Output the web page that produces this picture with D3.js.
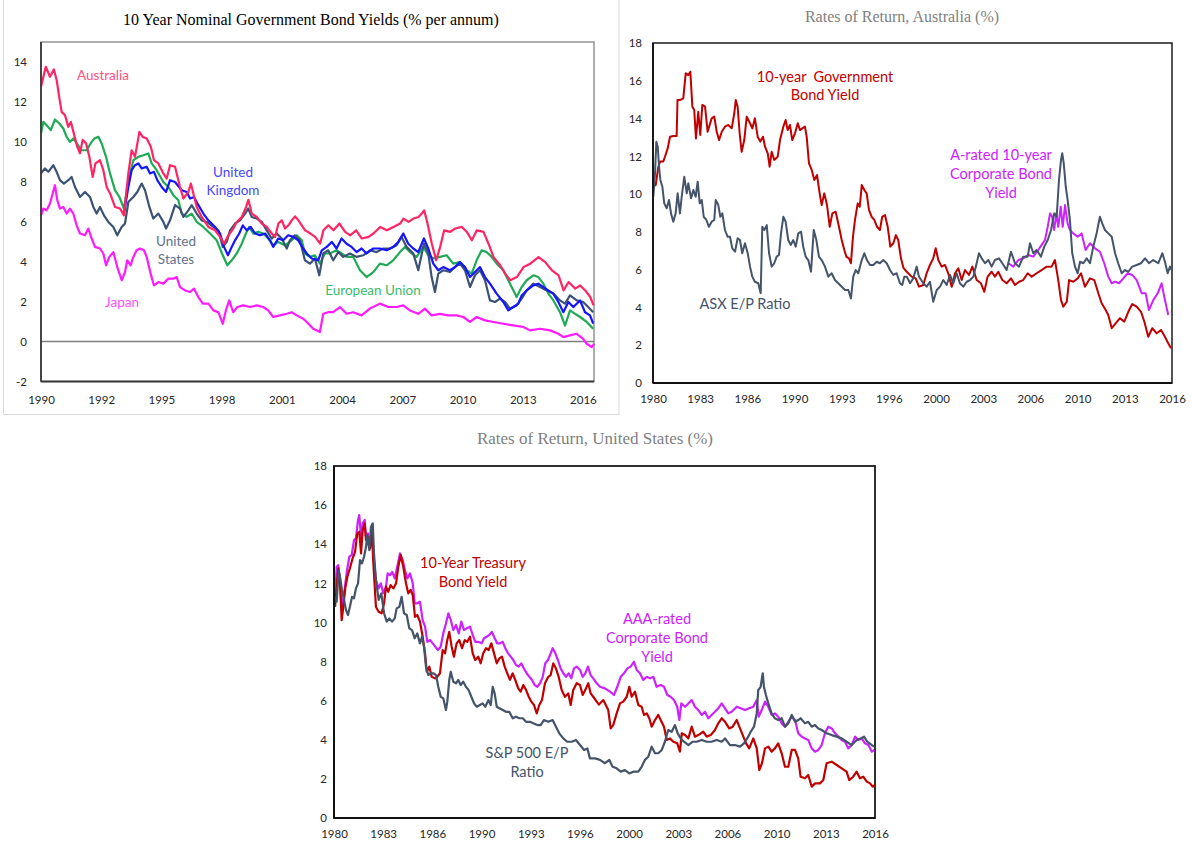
<!DOCTYPE html>
<html>
<head>
<meta charset="utf-8">
<script src="https://cdn.jsdelivr.net/npm/d3@7"></script>
<style>
  body { margin: 0; background: #fff; }
  svg { display: block; }
</style>
</head>
<body>
<script>
// ---- panel 1: 10 year nominal government bond yields, [year, %] ----
const govYears = ["1990","1992","1995","1998","2001","2004","2007","2010","2013","2016"];
const auYield = [[1990.00,12.76],[1990.23,13.76],[1990.43,13.26],[1990.62,13.63],[1990.75,13.1],[1990.88,12.2],[1990.99,11.5],[1991.15,11.34],[1991.31,10.75],[1991.43,11.0],[1991.58,10.4],[1991.74,9.75],[1991.87,9.43],[1992.0,10.1],[1992.16,9.93],[1992.32,9.25],[1992.48,8.24],[1992.61,8.92],[1992.83,9.08],[1992.99,8.58],[1993.15,7.74],[1993.31,7.43],[1993.55,6.74],[1993.79,6.66],[1993.98,6.32],[1994.19,8.42],[1994.35,9.58],[1994.51,9.25],[1994.72,10.5],[1994.88,10.25],[1995.07,10.17],[1995.27,9.75],[1995.42,9.08],[1995.63,8.92],[1995.87,8.42],[1996.03,8.16],[1996.19,8.83],[1996.43,8.75],[1996.67,7.74],[1996.83,7.16],[1997.07,7.49],[1997.19,7.91],[1997.31,7.41],[1997.47,6.74],[1997.71,6.24],[1998.03,5.74],[1998.35,5.57],[1998.59,5.24],[1998.78,4.9],[1998.99,5.32],[1999.23,5.66],[1999.39,5.99],[1999.63,6.24],[1999.84,6.74],[1999.95,7.1],[2000.11,6.41],[2000.35,6.24],[2000.59,5.91],[2000.83,5.74],[2001.07,5.41],[2001.23,5.24],[2001.39,5.91],[2001.55,6.07],[2001.71,5.66],[2001.87,5.82],[2002.03,6.07],[2002.19,6.27],[2002.35,6.07],[2002.67,5.57],[2002.91,5.42],[2003.15,5.24],[2003.39,4.9],[2003.55,5.57],[2003.79,5.82],[2004.03,5.57],[2004.32,5.91],[2004.59,5.49],[2004.83,5.32],[2005.12,5.57],[2005.39,5.16],[2005.71,5.24],[2005.95,5.41],[2006.27,5.74],[2006.59,5.57],[2006.91,5.74],[2007.23,5.91],[2007.39,6.16],[2007.63,5.99],[2007.87,6.16],[2008.11,6.24],[2008.27,6.41],[2008.38,6.57],[2008.51,6.07],[2008.75,4.9],[2008.96,4.07],[2009.15,4.74],[2009.34,5.57],[2009.63,5.49],[2009.87,5.66],[2010.19,5.74],[2010.43,5.49],[2010.67,5.07],[2010.91,5.57],[2011.23,5.49],[2011.47,4.9],[2011.71,4.23],[2012.03,3.82],[2012.27,3.4],[2012.51,3.07],[2012.83,3.23],[2013.15,3.73],[2013.47,3.9],[2013.87,4.23],[2014.19,3.98],[2014.51,3.57],[2014.83,3.32],[2015.07,2.56],[2015.31,2.98],[2015.63,2.65],[2015.87,2.81],[2016.11,2.56],[2016.35,2.23],[2016.51,1.81]];
const euYield = [[1990.00,10.42],[1990.11,11.0],[1990.27,10.83],[1990.47,10.59],[1990.67,11.12],[1990.88,10.92],[1991.07,10.67],[1991.23,10.25],[1991.39,10.0],[1991.55,10.17],[1991.71,9.92],[1991.95,9.58],[1992.19,9.58],[1992.38,9.92],[1992.56,10.17],[1992.75,10.25],[1992.91,9.92],[1993.12,9.25],[1993.31,8.42],[1993.55,7.58],[1993.76,7.24],[1993.98,6.66],[1994.19,8.08],[1994.43,9.08],[1994.67,9.25],[1994.91,9.33],[1995.15,9.42],[1995.31,8.92],[1995.55,8.58],[1995.87,7.99],[1996.11,7.74],[1996.35,7.33],[1996.59,7.08],[1996.75,6.41],[1996.99,6.24],[1997.23,6.41],[1997.47,5.99],[1997.79,5.74],[1998.11,5.41],[1998.43,5.07],[1998.72,4.32],[1998.94,3.82],[1999.15,4.07],[1999.39,4.41],[1999.63,4.9],[1999.83,5.41],[1999.99,5.74],[2000.18,5.41],[2000.42,5.49],[2000.66,5.41],[2000.90,5.16],[2001.14,4.82],[2001.38,4.99],[2001.70,4.82],[2002.03,5.07],[2002.27,5.32],[2002.51,5.07],[2002.66,4.41],[2002.90,4.24],[2003.14,4.32],[2003.38,3.9],[2003.62,4.41],[2003.86,4.41],[2004.18,4.57],[2004.42,4.41],[2004.66,4.24],[2004.98,4.24],[2005.30,3.57],[2005.62,3.23],[2005.94,3.48],[2006.26,3.9],[2006.58,3.82],[2006.90,4.07],[2007.22,4.48],[2007.46,4.74],[2007.70,4.48],[2008.02,4.24],[2008.34,4.74],[2008.58,4.32],[2008.82,4.16],[2009.14,4.24],[2009.46,4.32],[2009.78,3.9],[2010.10,3.98],[2010.42,3.57],[2010.66,3.4],[2010.90,4.07],[2011.14,4.57],[2011.38,4.48],[2011.62,4.24],[2011.86,3.9],[2012.18,3.57],[2012.50,2.9],[2012.82,2.23],[2013.06,2.73],[2013.30,3.07],[2013.62,3.32],[2013.86,3.23],[2014.10,2.9],[2014.34,2.4],[2014.58,2.06],[2014.90,1.47],[2015.14,0.8],[2015.38,1.56],[2015.62,1.39],[2015.86,1.23],[2016.18,0.98],[2016.49,0.64]];
const ukYield = [[1993.98,6.41],[1994.19,7.74],[1994.35,8.58],[1994.51,8.83],[1994.67,8.92],[1994.83,8.67],[1995.07,8.75],[1995.23,8.42],[1995.42,8.5],[1995.58,8.08],[1995.79,7.74],[1996.0,7.49],[1996.19,8.08],[1996.43,7.99],[1996.75,7.58],[1996.99,7.49],[1997.15,7.16],[1997.34,7.24],[1997.55,6.83],[1997.79,6.41],[1998.03,6.07],[1998.35,5.74],[1998.59,5.41],[1998.78,4.74],[1998.97,4.32],[1999.15,4.74],[1999.31,5.07],[1999.51,5.41],[1999.68,5.82],[1999.87,5.57],[2000.06,5.74],[2000.27,5.41],[2000.51,5.32],[2000.75,5.41],[2000.99,5.07],[2001.14,4.74],[2001.38,5.16],[2001.62,5.07],[2001.86,5.32],[2002.10,5.24],[2002.34,5.07],[2002.58,4.66],[2002.75,4.41],[2002.99,4.16],[2003.30,4.07],[2003.47,4.57],[2003.71,4.74],[2003.95,4.99],[2004.18,4.66],[2004.42,5.16],[2004.66,4.9],[2004.90,4.74],[2005.14,4.48],[2005.38,4.66],[2005.62,4.41],[2005.94,4.66],[2006.26,4.66],[2006.58,4.57],[2006.90,4.74],[2007.14,4.99],[2007.38,5.41],[2007.62,4.9],[2007.86,4.66],[2008.10,4.48],[2008.37,5.16],[2008.58,4.66],[2008.82,3.9],[2009.06,3.57],[2009.30,3.73],[2009.62,3.57],[2009.86,3.73],[2010.10,3.98],[2010.34,3.73],[2010.58,3.23],[2010.82,3.48],[2011.06,3.73],[2011.30,3.23],[2011.54,2.9],[2011.86,2.4],[2012.18,1.98],[2012.42,1.56],[2012.66,1.73],[2012.90,1.9],[2013.06,2.31],[2013.30,2.56],[2013.62,2.81],[2013.86,2.9],[2014.10,2.73],[2014.34,2.56],[2014.58,2.4],[2014.82,1.98],[2015.06,1.47],[2015.30,1.98],[2015.54,1.73],[2015.86,2.06],[2016.10,1.47],[2016.34,1.31],[2016.49,0.9]];
const usYield = [[1990.00,8.42],[1990.19,8.67],[1990.35,8.5],[1990.59,8.83],[1990.75,8.5],[1990.91,8.08],[1991.10,7.91],[1991.31,8.08],[1991.47,8.24],[1991.63,7.74],[1991.87,7.24],[1992.11,7.49],[1992.35,7.24],[1992.51,6.74],[1992.67,6.41],[1992.83,6.74],[1993.02,6.32],[1993.23,5.99],[1993.47,5.74],[1993.66,5.32],[1993.87,5.74],[1994.03,5.91],[1994.19,6.99],[1994.43,7.24],[1994.62,7.49],[1994.83,7.91],[1994.99,7.58],[1995.20,6.74],[1995.39,6.16],[1995.63,6.41],[1995.87,5.99],[1996.0,5.66],[1996.19,6.07],[1996.43,6.83],[1996.67,6.66],[1996.83,6.24],[1997.07,6.57],[1997.23,6.83],[1997.47,6.41],[1997.71,6.07],[1997.95,5.99],[1998.27,5.74],[1998.51,5.57],[1998.72,4.74],[1998.91,4.99],[1999.07,5.57],[1999.31,5.91],[1999.55,6.07],[1999.79,6.41],[1999.94,6.66],[2000.11,6.24],[2000.35,6.16],[2000.59,5.99],[2000.83,5.57],[2001.07,5.16],[2001.31,5.41],[2001.55,5.16],[2001.79,4.66],[2001.94,5.07],[2002.18,5.32],[2002.42,5.07],[2002.58,4.41],[2002.66,4.07],[2002.90,3.9],[2003.14,4.16],[2003.35,3.32],[2003.54,4.41],[2003.78,4.57],[2004.02,4.07],[2004.26,4.48],[2004.50,4.24],[2004.82,4.41],[2005.14,4.24],[2005.46,4.32],[2005.78,4.57],[2006.10,4.48],[2006.42,4.66],[2006.74,4.66],[2007.06,4.82],[2007.30,5.24],[2007.54,4.74],[2007.86,4.41],[2008.10,3.57],[2008.37,4.9],[2008.58,4.41],[2008.74,3.23],[2008.90,2.48],[2009.06,3.4],[2009.30,3.57],[2009.62,3.48],[2009.86,3.73],[2010.10,3.9],[2010.34,3.57],[2010.58,2.73],[2010.82,3.32],[2011.06,3.57],[2011.30,3.07],[2011.54,2.06],[2011.78,1.98],[2012.02,2.15],[2012.26,1.98],[2012.50,1.65],[2012.82,1.81],[2013.06,2.15],[2013.30,2.56],[2013.62,2.9],[2013.94,2.73],[2014.26,2.56],[2014.58,2.4],[2014.90,2.06],[2015.14,1.9],[2015.38,2.31],[2015.70,2.06],[2016.01,1.98],[2016.25,1.73],[2016.49,1.47]];
const jpYield = [[1990.00,6.32],[1990.11,6.66],[1990.27,6.57],[1990.43,6.91],[1990.56,7.41],[1990.67,7.83],[1990.78,7.08],[1990.91,6.66],[1991.07,6.74],[1991.23,6.41],[1991.39,6.66],[1991.55,6.41],[1991.71,5.82],[1991.87,5.41],[1992.11,5.32],[1992.27,5.66],[1992.43,5.16],[1992.59,4.74],[1992.83,4.66],[1992.99,4.41],[1993.12,3.82],[1993.28,4.24],[1993.47,4.48],[1993.66,3.73],[1993.87,3.07],[1994.03,3.48],[1994.14,4.07],[1994.30,3.82],[1994.43,4.24],[1994.59,4.57],[1994.75,4.66],[1994.94,4.57],[1995.07,4.24],[1995.26,3.4],[1995.42,2.81],[1995.63,2.98],[1995.87,2.9],[1996.11,3.15],[1996.35,3.15],[1996.51,3.23],[1996.67,2.73],[1996.91,2.56],[1997.15,2.48],[1997.34,2.65],[1997.55,2.23],[1997.76,1.9],[1998.03,1.9],[1998.27,1.56],[1998.51,1.47],[1998.72,0.89],[1998.87,1.56],[1999.03,2.06],[1999.22,1.47],[1999.42,1.73],[1999.70,1.81],[2000.03,1.73],[2000.35,1.81],[2000.66,1.73],[2000.90,1.56],[2001.14,1.23],[2001.46,1.31],[2001.79,1.39],[2002.03,1.47],[2002.27,1.31],[2002.58,1.14],[2002.75,0.98],[2003.06,0.64],[2003.38,0.48],[2003.54,1.39],[2003.78,1.47],[2004.02,1.47],[2004.34,1.73],[2004.66,1.39],[2004.98,1.47],[2005.38,1.31],[2005.78,1.65],[2006.26,1.9],[2006.66,1.73],[2007.06,1.73],[2007.38,1.81],[2007.70,1.56],[2008.10,1.39],[2008.42,1.65],[2008.74,1.31],[2009.14,1.39],[2009.54,1.31],[2009.94,1.31],[2010.26,1.23],[2010.58,0.98],[2010.90,1.23],[2011.30,1.06],[2011.70,0.98],[2012.18,0.89],[2012.66,0.81],[2013.14,0.73],[2013.46,0.56],[2013.94,0.64],[2014.42,0.56],[2014.82,0.39],[2015.06,0.22],[2015.38,0.31],[2015.70,0.39],[2016.01,0.14],[2016.18,-0.11],[2016.42,-0.28],[2016.53,-0.11]];

// ---- panel 2: rates of return, Australia ----
const returnYears = ["1980","1983","1986","1990","1993","1996","2000","2003","2006","2010","2013","2016"];
const ausGovBond = [[1980.02,10.39],[1980.19,10.48],[1980.37,11.45],[1980.49,11.72],[1980.71,11.72],[1980.83,11.98],[1981.02,12.42],[1981.18,13.04],[1981.41,13.08],[1981.64,13.08],[1981.70,14.98],[1981.87,14.98],[1982.10,15.07],[1982.27,16.4],[1982.45,16.3],[1982.59,16.48],[1982.73,14.63],[1982.86,14.45],[1982.98,12.95],[1983.14,14.36],[1983.28,13.13],[1983.42,14.72],[1983.61,14.63],[1983.79,13.3],[1984.07,14.01],[1984.25,14.1],[1984.42,13.3],[1984.58,12.86],[1984.77,13.3],[1984.99,13.57],[1985.22,13.66],[1985.46,13.48],[1985.64,14.28],[1985.74,14.98],[1985.87,14.63],[1986.01,13.22],[1986.15,12.24],[1986.33,12.86],[1986.50,14.1],[1986.73,13.75],[1986.89,13.48],[1987.07,14.01],[1987.26,13.04],[1987.44,12.78],[1987.63,13.04],[1987.77,12.51],[1987.96,12.16],[1988.09,11.45],[1988.23,12.24],[1988.41,11.81],[1988.65,11.98],[1988.81,12.86],[1989.04,13.57],[1989.20,13.92],[1989.34,13.39],[1989.50,13.66],[1989.66,12.86],[1989.85,13.22],[1990.04,13.75],[1990.20,13.39],[1990.36,13.48],[1990.54,13.57],[1990.66,13.04],[1990.82,11.63],[1991.01,11.28],[1991.19,10.75],[1991.38,11.01],[1991.56,10.04],[1991.70,9.42],[1991.88,10.04],[1992.07,9.42],[1992.26,8.27],[1992.44,8.98],[1992.67,9.07],[1992.90,8.27],[1993.09,7.57],[1993.27,7.04],[1993.41,6.69],[1993.59,6.6],[1993.73,6.34],[1993.87,7.74],[1994.01,8.63],[1994.20,9.51],[1994.34,9.33],[1994.48,10.48],[1994.66,10.22],[1994.82,10.04],[1994.98,9.16],[1995.17,8.8],[1995.35,8.63],[1995.54,8.27],[1995.74,8.1],[1995.90,8.8],[1996.09,8.89],[1996.28,8.27],[1996.46,7.22],[1996.67,7.4],[1996.85,7.83],[1997.01,7.57],[1997.20,6.6],[1997.37,6.1],[1997.60,5.89],[1997.94,5.63],[1998.22,5.54],[1998.45,5.1],[1998.75,5.19],[1998.98,5.81],[1999.21,6.25],[1999.44,6.6],[1999.61,7.13],[1999.79,6.51],[2000.02,6.16],[2000.25,6.25],[2000.48,5.81],[2000.72,5.1],[2000.95,5.81],[2001.18,6.07],[2001.41,5.45],[2001.64,5.98],[2001.92,5.72],[2002.15,6.16],[2002.45,5.45],[2002.75,5.28],[2002.98,4.83],[2003.21,5.63],[2003.49,5.89],[2003.72,5.63],[2003.95,5.89],[2004.23,5.45],[2004.53,5.28],[2004.83,5.54],[2005.11,5.19],[2005.39,5.36],[2005.68,5.45],[2005.99,5.81],[2006.27,5.63],[2006.61,5.81],[2006.96,5.98],[2007.31,6.16],[2007.65,6.16],[2007.88,6.51],[2008.11,5.45],[2008.30,4.39],[2008.46,4.04],[2008.70,4.3],[2008.86,5.45],[2009.15,5.36],[2009.46,5.54],[2009.69,5.81],[2009.96,5.1],[2010.31,5.54],[2010.61,5.45],[2010.89,4.75],[2011.12,4.22],[2011.40,3.86],[2011.58,3.6],[2011.82,2.9],[2012.09,3.16],[2012.39,3.43],[2012.69,3.25],[2012.97,3.77],[2013.24,4.18],[2013.55,4.04],[2013.85,3.77],[2014.08,3.25],[2014.35,2.45],[2014.63,2.9],[2014.94,2.63],[2015.24,2.81],[2015.51,2.45],[2015.74,2.1],[2015.93,1.84]];
const ausEP = [[1980.02,9.86],[1980.14,11.1],[1980.23,12.77],[1980.33,12.51],[1980.42,11.45],[1980.51,10.75],[1980.65,10.39],[1980.78,9.51],[1980.95,9.25],[1981.11,9.69],[1981.25,8.98],[1981.41,8.54],[1981.57,8.98],[1981.71,10.04],[1981.87,8.98],[1981.99,9.86],[1982.17,10.92],[1982.34,10.04],[1982.45,10.57],[1982.64,9.78],[1982.80,10.22],[1982.96,9.86],[1983.10,10.66],[1983.24,9.51],[1983.38,9.69],[1983.52,8.8],[1983.70,8.63],[1983.88,8.27],[1984.07,8.54],[1984.25,8.63],[1984.35,9.69],[1984.53,9.42],[1984.67,8.8],[1984.81,8.98],[1984.99,8.1],[1985.18,7.74],[1985.34,7.74],[1985.50,7.13],[1985.69,6.95],[1985.87,7.66],[1986.03,7.57],[1986.19,6.87],[1986.38,7.4],[1986.57,6.87],[1986.73,6.16],[1986.89,5.63],[1987.07,5.36],[1987.30,5.28],[1987.47,4.75],[1987.58,8.27],[1987.72,8.1],[1987.89,8.36],[1988.05,6.87],[1988.23,6.16],[1988.41,6.34],[1988.58,6.69],[1988.74,6.78],[1988.88,7.92],[1989.04,8.8],[1989.20,8.54],[1989.38,7.57],[1989.55,7.31],[1989.73,7.57],[1989.90,7.22],[1990.08,7.92],[1990.27,8.01],[1990.42,7.22],[1990.59,6.69],[1990.77,6.51],[1990.96,5.89],[1991.15,8.1],[1991.33,7.57],[1991.51,6.69],[1991.70,6.51],[1991.93,6.16],[1992.16,5.63],[1992.39,5.81],[1992.62,5.45],[1992.85,5.28],[1993.09,5.1],[1993.32,4.92],[1993.55,4.92],[1993.73,4.48],[1993.89,5.63],[1994.06,5.98],[1994.24,5.81],[1994.48,6.51],[1994.66,6.87],[1994.84,6.51],[1995.05,6.25],[1995.28,6.25],[1995.52,6.42],[1995.74,6.34],[1995.97,6.51],[1996.21,6.34],[1996.44,5.98],[1996.67,5.72],[1996.90,5.81],[1997.13,5.28],[1997.29,5.19],[1997.43,5.63],[1997.60,5.63],[1997.83,5.28],[1998.05,5.54],[1998.29,6.16],[1998.45,5.63],[1998.75,5.28],[1998.98,5.1],[1999.21,5.36],[1999.44,4.3],[1999.68,4.92],[1999.91,5.1],[2000.14,5.45],[2000.37,5.19],[2000.60,5.72],[2000.83,5.28],[2001.06,5.81],[2001.29,5.28],[2001.52,5.1],[2001.76,5.36],[2001.99,5.45],[2002.22,5.63],[2002.45,6.34],[2002.61,6.87],[2002.80,6.6],[2003.03,6.34],[2003.26,6.51],[2003.49,6.16],[2003.72,6.51],[2004.00,6.6],[2004.23,6.34],[2004.53,5.98],[2004.83,6.95],[2005.11,6.34],[2005.39,6.16],[2005.68,6.69],[2005.99,6.69],[2006.15,7.4],[2006.38,6.87],[2006.61,7.04],[2006.91,6.69],[2007.14,7.22],[2007.38,7.57],[2007.61,8.1],[2007.83,8.98],[2008.00,8.8],[2008.16,10.75],[2008.30,11.81],[2008.39,12.16],[2008.49,11.63],[2008.63,10.39],[2008.76,9.69],[2008.92,8.63],[2009.08,6.87],[2009.27,6.16],[2009.46,5.81],[2009.62,6.42],[2009.85,6.34],[2010.08,6.6],[2010.31,6.34],[2010.54,7.22],[2010.77,7.92],[2011.00,8.8],[2011.16,8.45],[2011.35,8.1],[2011.58,7.92],[2011.82,7.74],[2012.05,6.87],[2012.27,6.34],[2012.51,5.81],[2012.74,5.98],[2012.97,5.89],[2013.24,6.16],[2013.55,6.25],[2013.85,6.34],[2014.13,6.6],[2014.40,6.34],[2014.70,6.51],[2015.05,6.34],[2015.33,6.87],[2015.51,6.42],[2015.70,5.81],[2015.86,6.16],[2015.98,5.98]];
const ausCorpA = [[2004.64,6.34],[2004.99,6.16],[2005.34,6.51],[2005.68,6.6],[2006.03,6.78],[2006.38,6.69],[2006.72,7.04],[2006.96,7.31],[2007.19,7.57],[2007.38,8.27],[2007.54,8.98],[2007.69,8.8],[2007.83,8.1],[2007.97,8.98],[2008.11,8.27],[2008.28,9.33],[2008.42,8.27],[2008.58,9.42],[2008.76,8.45],[2008.92,8.1],[2009.15,7.92],[2009.46,7.74],[2009.73,7.92],[2010.01,7.04],[2010.31,7.4],[2010.66,7.13],[2011.00,6.95],[2011.30,6.34],[2011.58,5.63],[2011.82,5.28],[2012.05,5.36],[2012.33,5.28],[2012.62,5.54],[2012.93,5.81],[2013.24,5.72],[2013.55,5.45],[2013.90,4.75],[2014.17,4.75],[2014.40,3.86],[2014.70,4.39],[2015.01,4.75],[2015.28,5.28],[2015.51,4.39],[2015.74,3.6]];

// ---- panel 3: rates of return, United States ----
const usTreasury = [[1980.07,10.8],[1980.18,11.83],[1980.29,12.77],[1980.40,12.17],[1980.51,10.12],[1980.62,10.8],[1980.75,11.74],[1980.89,12.34],[1981.06,12.77],[1981.24,13.28],[1981.40,13.61],[1981.55,14.55],[1981.68,14.64],[1981.80,13.53],[1981.91,14.72],[1982.04,15.07],[1982.13,14.21],[1982.26,14.38],[1982.40,13.79],[1982.51,14.72],[1982.62,13.02],[1982.79,10.8],[1982.97,10.55],[1983.17,10.47],[1983.33,10.98],[1983.46,11.83],[1983.61,11.57],[1983.77,11.91],[1983.95,11.74],[1984.13,12.0],[1984.28,12.85],[1984.44,13.45],[1984.61,12.85],[1984.79,12.0],[1984.94,11.49],[1985.10,11.66],[1985.24,11.4],[1985.39,10.29],[1985.54,10.38],[1985.72,10.04],[1985.90,9.27],[1986.06,8.42],[1986.17,7.48],[1986.34,7.74],[1986.50,7.22],[1986.72,7.14],[1986.87,7.22],[1987.05,7.4],[1987.23,8.59],[1987.39,8.42],[1987.54,9.1],[1987.67,9.52],[1987.83,8.76],[1987.98,8.25],[1988.16,8.93],[1988.34,9.1],[1988.52,8.68],[1988.70,9.1],[1988.87,9.01],[1989.05,9.27],[1989.23,8.42],[1989.40,8.08],[1989.60,8.25],[1989.76,7.91],[1989.93,8.42],[1990.11,8.68],[1990.29,8.59],[1990.47,8.93],[1990.65,8.42],[1990.83,7.91],[1991.00,8.16],[1991.18,8.25],[1991.36,7.74],[1991.53,7.4],[1991.71,7.06],[1991.89,7.4],[1992.06,7.06],[1992.26,6.63],[1992.42,6.46],[1992.60,6.8],[1992.78,6.54],[1992.96,6.2],[1993.13,5.95],[1993.31,5.78],[1993.49,5.35],[1993.66,5.78],[1993.84,6.03],[1994.04,6.89],[1994.26,7.22],[1994.42,7.31],[1994.59,7.91],[1994.77,7.65],[1994.95,7.22],[1995.15,6.54],[1995.37,6.2],[1995.59,6.37],[1995.75,5.78],[1995.92,6.54],[1996.15,6.89],[1996.37,6.8],[1996.55,6.29],[1996.72,6.54],[1996.92,6.89],[1997.08,6.37],[1997.25,6.2],[1997.48,5.95],[1997.63,5.8],[1997.92,6.03],[1998.25,5.52],[1998.41,4.58],[1998.58,4.75],[1998.81,5.35],[1999.03,5.86],[1999.25,5.95],[1999.48,6.2],[1999.65,6.71],[1999.81,6.2],[2000.03,6.46],[2000.25,5.78],[2000.47,5.69],[2000.63,5.27],[2000.81,5.35],[2000.98,5.1],[2001.14,4.67],[2001.36,5.01],[2001.58,5.27],[2001.74,5.01],[2001.96,4.67],[2002.14,3.99],[2002.36,4.07],[2002.58,3.9],[2002.84,3.82],[2003.02,3.39],[2003.14,4.33],[2003.36,4.24],[2003.58,4.07],[2003.80,4.67],[2004.02,4.16],[2004.24,4.24],[2004.57,4.41],[2004.80,4.16],[2005.07,4.24],[2005.35,4.5],[2005.57,4.84],[2005.80,5.1],[2006.02,4.92],[2006.30,4.58],[2006.53,4.67],[2006.80,5.01],[2006.97,4.67],[2007.20,4.24],[2007.42,3.82],[2007.63,3.56],[2007.90,4.07],[2008.13,3.56],[2008.30,2.45],[2008.48,2.8],[2008.68,3.56],[2008.90,3.65],[2009.12,3.39],[2009.34,3.56],[2009.56,3.82],[2009.79,3.31],[2010.01,2.62],[2010.23,2.62],[2010.46,3.48],[2010.68,3.48],[2010.89,3.05],[2011.05,2.11],[2011.34,2.03],[2011.56,2.2],[2011.79,1.6],[2012.01,1.77],[2012.34,1.77],[2012.56,1.94],[2012.78,2.8],[2013.12,2.88],[2013.45,2.71],[2013.78,2.54],[2014.11,2.37],[2014.29,1.94],[2014.55,2.11],[2014.78,2.37],[2015.00,2.03],[2015.22,2.11],[2015.45,1.86],[2015.67,1.77],[2015.85,1.6],[2016.00,1.69]];
const usCorpAAA = [[1980.07,11.15],[1980.18,12.85],[1980.29,12.93],[1980.40,11.83],[1980.53,10.63],[1980.67,11.49],[1980.85,12.59],[1981.02,13.36],[1981.18,13.45],[1981.33,14.21],[1981.46,14.3],[1981.60,15.24],[1981.68,15.49],[1981.82,14.21],[1981.91,15.07],[1982.04,15.24],[1982.13,14.38],[1982.26,14.55],[1982.40,13.87],[1982.53,14.81],[1982.66,13.19],[1982.79,12.17],[1982.97,11.74],[1983.11,12.0],[1983.28,11.49],[1983.46,11.83],[1983.57,12.51],[1983.73,12.42],[1983.88,12.59],[1984.04,12.25],[1984.21,12.85],[1984.39,13.53],[1984.57,13.19],[1984.72,12.68],[1984.88,12.25],[1985.06,12.51],[1985.24,12.0],[1985.37,10.98],[1985.54,10.98],[1985.72,11.06],[1985.90,10.12],[1986.06,9.78],[1986.21,9.01],[1986.39,9.1],[1986.57,8.93],[1986.74,8.76],[1986.92,8.59],[1987.10,8.76],[1987.27,9.44],[1987.45,9.95],[1987.61,10.47],[1987.77,10.12],[1987.94,9.61],[1988.12,9.87],[1988.30,9.44],[1988.47,10.04],[1988.65,9.61],[1988.83,9.7],[1989.05,9.78],[1989.23,9.36],[1989.40,9.01],[1989.60,9.01],[1989.83,8.93],[1989.98,9.19],[1990.16,9.27],[1990.33,9.36],[1990.51,9.52],[1990.69,9.19],[1990.87,8.93],[1991.05,8.93],[1991.23,9.01],[1991.40,8.68],[1991.58,8.42],[1991.76,8.25],[1991.93,8.08],[1992.11,7.82],[1992.29,7.74],[1992.46,7.91],[1992.64,7.65],[1992.82,7.4],[1993.00,7.22],[1993.18,7.06],[1993.35,6.8],[1993.53,6.71],[1993.71,6.89],[1993.89,7.22],[1994.06,7.91],[1994.24,8.08],[1994.42,8.42],[1994.55,8.68],[1994.73,8.42],[1994.90,8.08],[1995.08,7.65],[1995.26,7.4],[1995.44,7.22],[1995.62,7.4],[1995.79,7.14],[1995.97,7.65],[1996.15,7.74],[1996.37,7.57],[1996.55,7.22],[1996.72,7.4],[1996.90,7.74],[1997.08,7.31],[1997.25,7.14],[1997.48,6.89],[1997.70,6.71],[1998.03,6.63],[1998.37,6.46],[1998.63,6.29],[1998.85,6.71],[1999.08,7.22],[1999.30,7.4],[1999.52,7.65],[1999.74,7.74],[1999.96,7.99],[2000.14,7.57],[2000.36,7.4],[2000.58,7.06],[2000.81,7.22],[2001.03,7.14],[2001.25,7.22],[2001.47,6.71],[2001.74,6.8],[2001.96,6.71],[2002.18,6.29],[2002.40,6.2],[2002.62,6.03],[2002.84,5.69],[2002.98,5.01],[2003.11,5.86],[2003.36,5.69],[2003.58,5.86],[2003.80,6.03],[2004.02,5.69],[2004.24,5.52],[2004.47,5.27],[2004.69,5.43],[2004.91,5.1],[2005.13,5.27],[2005.35,5.43],[2005.57,5.61],[2005.80,5.86],[2006.02,5.61],[2006.24,5.35],[2006.46,5.43],[2006.80,5.69],[2007.06,5.61],[2007.35,5.52],[2007.63,5.61],[2007.90,5.69],[2008.13,6.03],[2008.26,5.18],[2008.46,5.52],[2008.68,5.95],[2008.90,5.69],[2009.12,5.27],[2009.34,5.35],[2009.56,5.18],[2009.79,4.84],[2010.01,4.67],[2010.23,4.92],[2010.46,5.18],[2010.68,5.01],[2010.89,4.33],[2011.12,4.16],[2011.34,4.07],[2011.56,3.99],[2011.79,3.56],[2012.01,3.39],[2012.23,3.48],[2012.45,3.73],[2012.67,4.33],[2012.89,4.67],[2013.12,4.58],[2013.34,4.33],[2013.56,4.16],[2013.78,3.99],[2014.00,3.9],[2014.22,3.56],[2014.45,3.73],[2014.67,4.16],[2014.89,3.99],[2015.12,4.07],[2015.33,3.82],[2015.56,3.73],[2015.79,3.39],[2015.95,3.48]];
const usEP = [[1980.07,11.31],[1980.18,11.06],[1980.31,12.68],[1980.40,12.34],[1980.53,11.66],[1980.67,11.15],[1980.80,10.63],[1980.93,10.38],[1981.06,10.8],[1981.20,11.31],[1981.33,11.23],[1981.46,11.74],[1981.60,12.0],[1981.73,13.19],[1981.86,13.02],[1982.00,13.36],[1982.13,13.87],[1982.22,14.47],[1982.35,13.7],[1982.46,14.89],[1982.58,15.07],[1982.66,13.53],[1982.79,12.17],[1982.97,11.15],[1983.15,11.49],[1983.33,10.47],[1983.51,10.04],[1983.68,10.21],[1983.86,10.04],[1984.04,10.21],[1984.17,10.72],[1984.35,10.8],[1984.50,11.31],[1984.66,10.47],[1984.84,10.38],[1985.01,9.7],[1985.19,9.61],[1985.37,9.19],[1985.54,9.44],[1985.72,8.93],[1985.86,9.27],[1985.99,8.76],[1986.12,7.74],[1986.27,7.31],[1986.43,7.4],[1986.61,7.4],[1986.79,7.31],[1986.94,6.71],[1987.10,6.2],[1987.27,6.12],[1987.45,5.52],[1987.54,5.95],[1987.67,7.06],[1987.77,7.48],[1987.94,6.97],[1988.12,6.89],[1988.27,7.06],[1988.43,6.8],[1988.60,6.97],[1988.78,6.71],[1988.96,6.54],[1989.14,6.2],[1989.32,5.86],[1989.50,5.69],[1989.71,5.78],[1989.89,5.86],[1990.07,5.69],[1990.27,6.03],[1990.43,5.78],[1990.56,6.71],[1990.69,6.37],[1990.83,5.69],[1991.00,5.61],[1991.23,5.52],[1991.44,5.43],[1991.66,5.43],[1991.89,5.1],[1992.11,5.18],[1992.33,5.1],[1992.56,5.1],[1992.78,4.92],[1993.04,4.92],[1993.26,4.84],[1993.53,4.75],[1993.75,4.75],[1993.97,5.01],[1994.26,4.92],[1994.55,5.01],[1994.77,4.67],[1994.99,4.33],[1995.26,4.07],[1995.52,3.9],[1995.82,3.9],[1996.10,3.99],[1996.37,3.73],[1996.64,3.48],[1996.86,3.56],[1997.03,3.05],[1997.37,3.05],[1997.70,2.97],[1998.03,2.8],[1998.32,2.97],[1998.54,2.62],[1998.81,2.54],[1999.08,2.37],[1999.36,2.45],[1999.65,2.28],[1999.92,2.37],[2000.25,2.37],[2000.47,2.62],[2000.69,2.97],[2000.91,3.13],[2001.14,3.65],[2001.36,3.31],[2001.58,3.31],[2001.81,3.48],[2002.02,3.9],[2002.24,4.5],[2002.47,4.41],[2002.69,4.75],[2002.87,4.33],[2003.07,4.07],[2003.29,3.9],[2003.58,3.73],[2003.87,3.9],[2004.13,3.9],[2004.47,3.99],[2004.80,3.9],[2005.13,3.9],[2005.47,3.99],[2005.80,3.9],[2006.02,4.07],[2006.35,3.73],[2006.68,3.73],[2007.02,3.65],[2007.28,3.82],[2007.50,4.07],[2007.73,4.41],[2007.95,4.67],[2008.13,5.35],[2008.23,6.54],[2008.39,6.71],[2008.53,7.4],[2008.61,6.71],[2008.74,6.29],[2008.90,5.86],[2009.12,5.35],[2009.34,5.1],[2009.56,5.01],[2009.79,5.1],[2010.01,4.67],[2010.23,4.84],[2010.46,5.27],[2010.68,4.92],[2010.89,5.01],[2011.05,5.1],[2011.34,4.84],[2011.56,4.92],[2011.79,4.67],[2012.01,4.75],[2012.23,4.58],[2012.45,4.5],[2012.78,4.33],[2013.12,4.24],[2013.45,4.16],[2013.78,4.07],[2014.11,3.9],[2014.45,3.73],[2014.78,3.99],[2015.05,4.07],[2015.27,4.16],[2015.49,3.9],[2015.79,3.73],[2015.95,3.65]];

const SANS = "Lato, 'Open Sans', sans-serif";
const SERIF = "'Liberation Serif', 'Times New Roman', serif";

const svg = d3.select("body").append("svg")
	.attr("width", 1192)
	.attr("height", 845)
	.style("background-color", "#ffffff");

// light frame around the first chart
svg.append("rect")
	.attr("x", 3.5).attr("y", -1)
	.attr("width", 615.5).attr("height", 415.5)
	.attr("fill", "none")
	.attr("stroke", "#d9d9d9");

// evenly spaced category-style tick positions
function tickSpots(start, end, n) {
	return d3.range(n).map(i => start + i * (end - start) / (n - 1));
}

function drawPanel(p) {
	const g = svg.append("g");
	const x = d3.scaleLinear().domain(p.xDomain).range([p.left, p.right]);
	const y = d3.scaleLinear().domain(p.yDomain).range([p.bottom, p.top]);

	g.append("rect")
		.attr("x", p.left).attr("y", p.top)
		.attr("width", p.right - p.left).attr("height", p.bottom - p.top)
		.attr("fill", "none")
		.attr("stroke", p.frameColor)
		.attr("stroke-width", p.frameWidth);

	if (p.zeroLine) {
		g.append("line")
			.attr("x1", p.left).attr("x2", p.right)
			.attr("y1", y(0)).attr("y2", y(0))
			.attr("stroke", "#7f7f7f").attr("stroke-width", 1.6);
	}

	const yAxis = g.append("g")
		.attr("transform", `translate(${p.left},0)`)
		.call(d3.axisLeft(y).tickValues(p.yTicks).tickSize(0).tickPadding(p.yPad).tickFormat(d => String(d)));
	const xAxis = g.append("g")
		.attr("transform", `translate(0,${p.bottom})`)
		.call(d3.axisBottom(x).tickValues(p.xTicks).tickSize(0).tickPadding(p.xPad).tickFormat((d, i) => p.xLabels[i]));
	[yAxis, xAxis].forEach(a => {
		a.select(".domain").remove();
		a.attr("font-family", SANS).attr("font-size", p.tickFont);
		a.selectAll("text").attr("fill", "#262626");
	});

	const line = d3.line().x(d => x(d[0])).y(d => y(d[1]));
	p.series.forEach(s => {
		g.append("path")
			.datum(s.data)
			.attr("d", line)
			.attr("fill", "none")
			.attr("stroke", s.color)
			.attr("stroke-width", p.lineWidth)
			.attr("stroke-linejoin", "round");
	});

	// darker left and bottom axis lines
	g.append("line")
		.attr("x1", p.left).attr("x2", p.left).attr("y1", p.top).attr("y2", p.bottom)
		.attr("stroke", p.axisColor).attr("stroke-width", p.axisWidth);
	g.append("line")
		.attr("x1", p.left).attr("x2", p.right).attr("y1", p.bottom).attr("y2", p.bottom)
		.attr("stroke", p.axisColor).attr("stroke-width", p.axisWidth);

	svg.append("text")
		.attr("x", p.title.x).attr("y", p.title.y)
		.attr("text-anchor", "middle")
		.attr("font-family", SERIF)
		.attr("font-size", p.title.size)
		.attr("fill", p.title.color)
		.text(p.title.text);

	p.notes.forEach(n => {
		const t = svg.append("text")
			.attr("text-anchor", "middle")
			.attr("font-family", SANS)
			.attr("font-size", n.size)
			.attr("fill", n.color)
			.style("white-space", "pre");
		n.lines.forEach((l, i) => {
			t.append("tspan").attr("x", n.x).attr("y", n.y + i * n.dy).text(l);
		});
	});
}

drawPanel({
	left: 41, right: 594, top: 42, bottom: 381.5,
	xDomain: [1990, 2016.53], yDomain: [-2, 15],
	xTicks: tickSpots(1990, 2016, govYears.length), xLabels: govYears,
	yTicks: d3.range(-2, 15, 2),
	yPad: 14, xPad: 14, tickFont: 11.5,
	frameColor: "#8c8c8c", frameWidth: 1.4, axisColor: "#3a3a3a", axisWidth: 1.8,
	zeroLine: true, lineWidth: 2.2,
	series: [
		{ data: euYield, color: "#1faa55" },
		{ data: jpYield, color: "#ff1aff" },
		{ data: usYield, color: "#3b5275" },
		{ data: ukYield, color: "#1414ff" },
		{ data: auYield, color: "#ff2462" }
	],
	title: { text: "10 Year Nominal Government Bond Yields (% per annum)", x: 311, y: 25, size: 16, color: "#000000" },
	notes: [
		{ lines: ["Australia"], x: 103, y: 80, dy: 0, size: 13.5, color: "#ff4f7f" },
		{ lines: ["United", "Kingdom"], x: 233, y: 177, dy: 17.5, size: 13.5, color: "#4646ff" },
		{ lines: ["United", "States"], x: 176, y: 246, dy: 18, size: 13.5, color: "#60728f" },
		{ lines: ["Japan"], x: 122, y: 307, dy: 0, size: 13.5, color: "#ff4dff" },
		{ lines: ["European Union"], x: 373, y: 295, dy: 0, size: 13.5, color: "#3cbb6c" }
	]
});

drawPanel({
	left: 653, right: 1172, top: 43, bottom: 383,
	xDomain: [1980, 2016], yDomain: [0, 18],
	xTicks: tickSpots(1980, 2016, returnYears.length), xLabels: returnYears,
	yTicks: d3.range(0, 19, 2),
	yPad: 11, xPad: 12, tickFont: 11.5,
	frameColor: "#1a1a1a", frameWidth: 1.5, axisColor: "#111111", axisWidth: 1.8,
	zeroLine: false, lineWidth: 2,
	series: [
		{ data: ausGovBond, color: "#c00000" },
		{ data: ausCorpA, color: "#cc22ff" },
		{ data: ausEP, color: "#44546a" }
	],
	title: { text: "Rates of Return, Australia (%)", x: 902, y: 22, size: 16, color: "#7f7f7f" },
	notes: [
		{ lines: ["10-year  Government", "Bond Yield"], x: 825, y: 82, dy: 17.5, size: 14.5, color: "#c00000" },
		{ lines: ["A-rated 10-year", "Corporate Bond", "Yield"], x: 1001, y: 160, dy: 19, size: 14.5, color: "#cc22ff" },
		{ lines: ["ASX E/P Ratio"], x: 745, y: 309, dy: 0, size: 14.5, color: "#44546a" }
	]
});

drawPanel({
	left: 334, right: 875, top: 466, bottom: 818,
	xDomain: [1980, 2016], yDomain: [0, 18],
	xTicks: tickSpots(1980, 2016, returnYears.length), xLabels: returnYears,
	yTicks: d3.range(0, 19, 2),
	yPad: 7, xPad: 12, tickFont: 11.5,
	frameColor: "#1a1a1a", frameWidth: 1.8, axisColor: "#111111", axisWidth: 2,
	zeroLine: false, lineWidth: 2.2,
	series: [
		{ data: usCorpAAA, color: "#cc22ff" },
		{ data: usTreasury, color: "#c00000" },
		{ data: usEP, color: "#44546a" }
	],
	title: { text: "Rates of Return, United States (%)", x: 595, y: 444, size: 17, color: "#7f7f7f" },
	notes: [
		{ lines: ["10-Year Treasury", "Bond Yield"], x: 473, y: 568, dy: 19, size: 14.5, color: "#c00000" },
		{ lines: ["AAA-rated", "Corporate Bond", "Yield"], x: 657, y: 624, dy: 19, size: 14.5, color: "#cc22ff" },
		{ lines: ["S&P 500 E/P", "Ratio"], x: 527, y: 758, dy: 19, size: 14.5, color: "#44546a" }
	]
});
</script>
</body>
</html>
